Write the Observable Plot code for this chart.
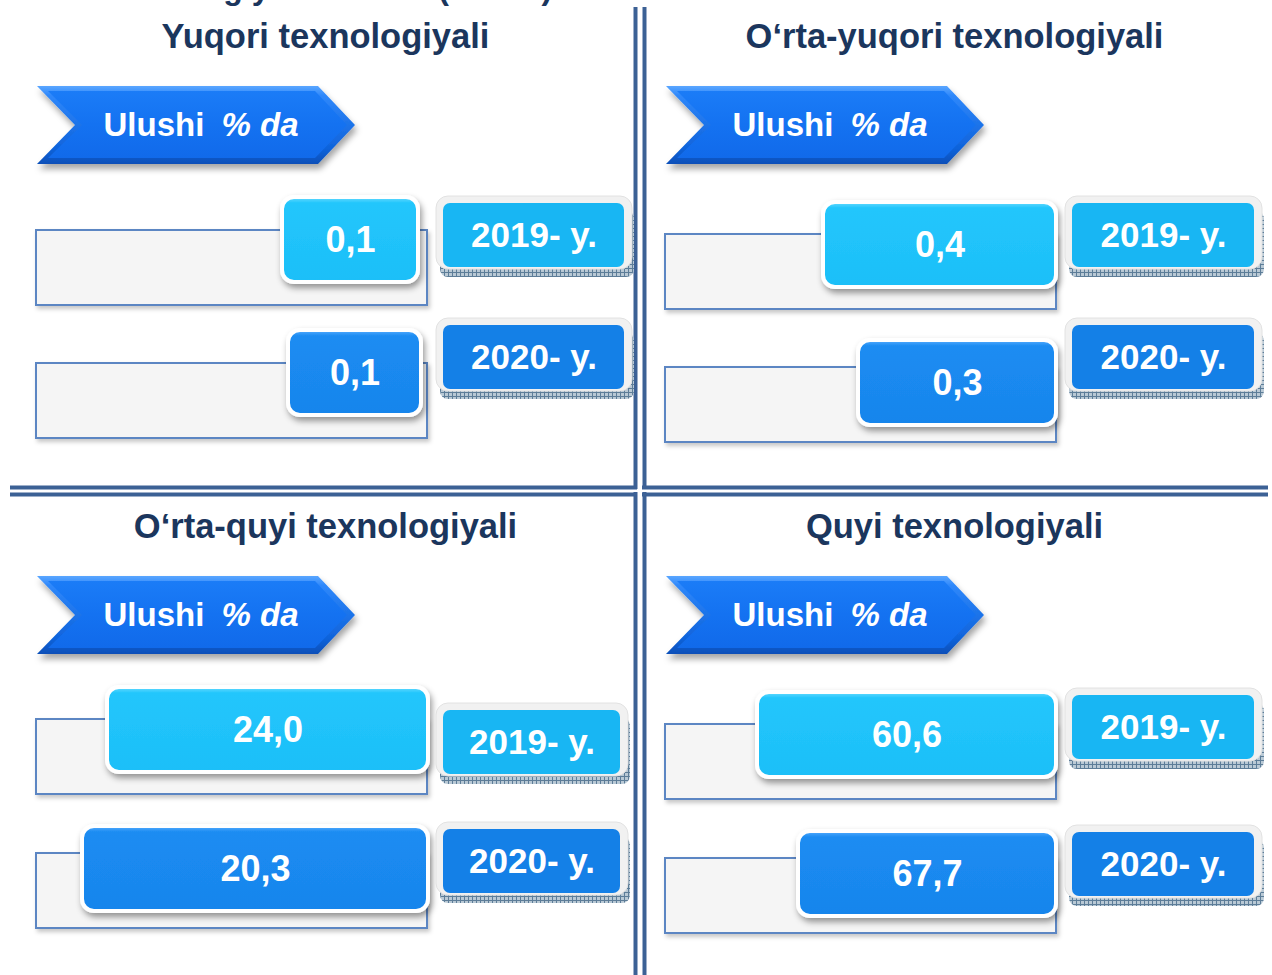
<!DOCTYPE html>
<html><head><meta charset="utf-8">
<script src="https://cdn.jsdelivr.net/npm/d3@7"></script>
<script src="https://cdn.jsdelivr.net/npm/@observablehq/plot@0.6"></script>
<style>html,body{margin:0;padding:0;background:#fff;} #chart{width:1272px;height:975px;overflow:hidden}</style>
</head><body><div id="chart"></div>
<script>
// ---------- DATA ----------
const header = "Texnologiyalar ulushi (foizda)";
const categories = ["Yuqori texnologiyali", "O‘rta-yuqori texnologiyali", "O‘rta-quyi texnologiyali", "Quyi texnologiyali"];
const years = ["2019- y.", "2020- y."];
const share2019 = [0.1, 0.4, 24.0, 60.6];
const share2020 = [0.1, 0.3, 20.3, 67.7];
const unitLabel = ["Ulushi", "% da"];

// ---------- LAYOUT (geometry of the infographic, not data) ----------
const panelCol = [0, 1, 0, 1], panelRow = [0, 0, 1, 1];
const colOffset = [0, 629], rowOffset = [0, 490];
const grayTop = [[230, 363], [234, 367], [229, 363], [234, 368]];
const valTop = [[197, 330], [202, 340], [197, 336], [202, 341]];
const valLeft = [[282, 288], [194, 229], [107, 82], [128, 169]];
const valRight = [[418, 421], [427, 427], [428, 428], [427, 427]];
const yearTop = [[196, 318], [196, 318], [213, 332], [198, 335]];
const yearRight = [632, 633, 628, 633];
const vDividers = [{x: 635, y1: 7, y2: 489}, {x: 644, y1: 7, y2: 489}, {x: 635, y1: 492, y2: 975}, {x: 644, y1: 492, y2: 975}];
const hDividers = [{y: 487, x1: 10, x2: 637}, {y: 494, x1: 10, x2: 637}, {y: 487, x1: 642, x2: 1268}, {y: 494, x1: 642, x2: 1268}];

const valueColor = ["url(#valLight)", "url(#valDark)"];
const yearColor = ["#18b6f3", "#1480e7"];
const fmt = v => v.toFixed(1).replace(".", ",");

const panels = categories.map((cat, p) => ({cat, p, ox: colOffset[panelCol[p]], oy: rowOffset[panelRow[p]]}));
const rows = [];
panels.forEach(({cat, p, ox, oy}) => {
  years.forEach((yr, r) => {
    const value = r === 0 ? share2019[p] : share2020[p];
    const yy = oy + yearTop[p][r];
    rows.push({
      cat, year: yr, r, value, label: fmt(value),
      gx1: ox + 36, gx2: ox + 427, gy1: oy + grayTop[p][r], gy2: oy + grayTop[p][r] + 75,
      vx1: ox + valLeft[p][r], vx2: ox + valRight[p][r], vy1: oy + valTop[p][r], vy2: oy + valTop[p][r] + 85,
      ox1: ox + 436, ox2: ox + yearRight[p], oy1: yy, oy2: yy + 73,
      ix1: ox + 443, ix2: ox + yearRight[p] - 8, iy1: yy + 7, iy2: yy + 71,
      hx1: ox + 440, hx2: ox + yearRight[p] + 2, hy1: yy + 15, hy2: yy + 81,
      fillV: valueColor[r], fillY: yearColor[r]
    });
  });
});
const arrowOuter = panels.flatMap(({p, ox, oy}) => [
  {p, y: oy + 86, x1: ox + 37, x2: ox + 318},
  {p, y: oy + 125, x1: ox + 75, x2: ox + 355},
  {p, y: oy + 164, x1: ox + 37, x2: ox + 318}]);
const arrowInner = panels.flatMap(({p, ox, oy}) => [
  {p, y: oy + 91, x1: ox + 48, x2: ox + 315},
  {p, y: oy + 125, x1: ox + 82, x2: ox + 347},
  {p, y: oy + 158, x1: ox + 48, x2: ox + 315}]);

const FONT = "'Liberation Sans', Arial, Helvetica, sans-serif";

const marks = [
  Plot.text([header], {x: 327, y: -12, text: d => d, fontSize: 32, fontWeight: "bold", fill: "#1b365d", textAnchor: "middle"}), //0
  Plot.ruleX(vDividers, {x: "x", y1: "y1", y2: "y2", stroke: "#3c6195", strokeWidth: 4}), //1
  Plot.ruleY(hDividers, {y: "y", x1: "x1", x2: "x2", stroke: "#3c6195", strokeWidth: 4}), //2
  Plot.text(panels, {x: d => d.ox + 325, y: d => d.oy + 36, text: "cat", fontSize: 34.5, fontWeight: "bold", fill: "#1b365d", textAnchor: "middle"}), //3
  Plot.areaX(arrowOuter, {x1: "x1", x2: "x2", y: "y", z: "p", fill: "url(#arrowOuter)"}), //4
  Plot.areaX(arrowInner, {x1: "x1", x2: "x2", y: "y", z: "p", fill: "url(#arrowInner)"}), //5
  Plot.text(panels, {x: d => d.ox + 103, y: d => d.oy + 125, text: () => unitLabel[0], fontSize: 33, fontWeight: "bold", fill: "white", textAnchor: "start"}), //6
  Plot.text(panels, {x: d => d.ox + 221, y: d => d.oy + 125, text: () => unitLabel[1], fontSize: 33, fontWeight: "bold", fontStyle: "italic", fill: "white", textAnchor: "start"}), //7
  Plot.rect(rows, {x1: "gx1", x2: "gx2", y1: "gy1", y2: "gy2", fill: "#f5f5f5", stroke: "#5b86c3", strokeWidth: 2}), //8
  Plot.rect(rows, {x1: "vx1", x2: "vx2", y1: "vy1", y2: "vy2", rx: 12, ry: 12, fill: "fillV", stroke: "white", strokeWidth: 4}), //9
  Plot.text(rows, {x: d => (d.vx1 + d.vx2) / 2, y: d => (d.vy1 + d.vy2) / 2, text: "label", fontSize: 36, fontWeight: "bold", fill: "white"}), //10
  Plot.rect(rows, {x1: "hx1", x2: "hx2", y1: "hy1", y2: "hy2", rx: 8, ry: 8, fill: "url(#hatch)"}), //11
  Plot.rect(rows, {x1: "ox1", x2: "ox2", y1: "oy1", y2: "oy2", rx: 12, ry: 12, fill: "#f1f1f1", stroke: "#e2e2e2", strokeWidth: 1}), //12
  Plot.rect(rows, {x1: "ix1", x2: "ix2", y1: "iy1", y2: "iy2", rx: 7, ry: 7, fill: "fillY"}), //13
  Plot.text(rows, {x: d => (d.ix1 + d.ix2) / 2, y: d => (d.iy1 + d.iy2) / 2, text: "year", fontSize: 35, fontWeight: "bold", fill: "white"}) //14
];

const svg = Plot.plot({
  width: 1272, height: 975, margin: 0,
  x: {type: "identity", axis: null},
  y: {type: "identity", axis: null},
  style: {fontFamily: FONT, background: "#ffffff", overflow: "hidden"},
  marks
});

// defs: gradients, pattern, shadows
const s = d3.select(svg);
const defs = s.insert("defs", ":first-child");
function grad(id, stops) {
  const g = defs.append("linearGradient").attr("id", id).attr("x1", 0).attr("y1", 0).attr("x2", 0).attr("y2", 1);
  stops.forEach(([o, c]) => g.append("stop").attr("offset", o).attr("stop-color", c));
}
grad("arrowOuter", [[0, "#5aa6ff"], [0.12, "#2f88fb"], [0.8, "#0f63db"], [1, "#0a4fb8"]]);
grad("arrowInner", [[0, "#1b7cf7"], [0.5, "#1472f1"], [1, "#116aea"]]);
grad("valLight", [[0, "#6ddcff"], [0.07, "#22c6fc"], [1, "#1dbff8"]]);
grad("valDark", [[0, "#5aaeff"], [0.07, "#1b8cf2"], [1, "#1885ec"]]);
const pat = defs.append("pattern").attr("id", "hatch").attr("width", 4).attr("height", 4).attr("patternUnits", "userSpaceOnUse");
pat.append("rect").attr("width", 4).attr("height", 4).attr("fill", "#b9c9d5");
pat.append("path").attr("d", "M0,0.5H4M0.5,0V4").attr("stroke", "#5d7d98").attr("stroke-width", 1);
function shadow(id, dx, dy, sd, op) {
  defs.append("filter").attr("id", id).attr("x", "-10%").attr("y", "-20%").attr("width", "130%").attr("height", "150%")
    .append("feDropShadow").attr("dx", dx).attr("dy", dy).attr("stdDeviation", sd).attr("flood-color", "#000").attr("flood-opacity", op);
}
shadow("shA", 2, 5, 3, 0.35);
shadow("shV", 2, 4, 3, 0.4);
shadow("shG", 2, 3, 2, 0.22);
const groups = Array.from(svg.children).filter(el => el.tagName.toLowerCase() === "g");
const applyFilter = (i, id) => { if (groups[i]) groups[i].setAttribute("filter", `url(#${id})`); };
if (groups.length === marks.length) {
  applyFilter(4, "shA");
  applyFilter(8, "shG");
  applyFilter(9, "shV");
}
document.getElementById("chart").appendChild(svg);
</script>
</body></html>
